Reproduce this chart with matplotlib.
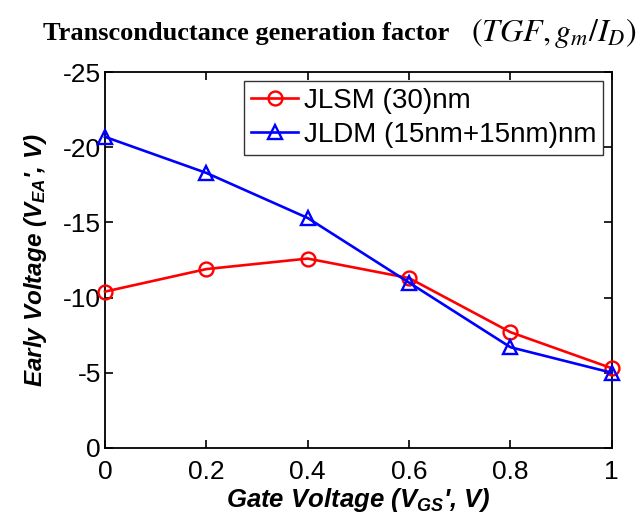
import matplotlib
matplotlib.use("Agg")
import matplotlib.pyplot as plt

# Gate voltage sweep and extracted Early voltages
vgs = [0.0, 0.2, 0.4, 0.6, 0.8, 1.0]
jlsm_vea = [-10.4, -11.9, -12.6, -11.3, -7.7, -5.3]
jldm_vea = [-20.7, -18.3, -15.3, -11.0, -6.7, -5.0]
series_labels = ["JLSM (30)nm", "JLDM (15nm+15nm)nm"]
x_ticks = [0, 0.2, 0.4, 0.6, 0.8, 1]
x_tick_labels = ["0", "0.2", "0.4", "0.6", "0.8", "1"]
y_ticks = [0, -5, -10, -15, -20, -25]
y_tick_labels = ["0", "-5", "-10", "-15", "-20", "-25"]

plt.rcParams["font.family"] = ["Liberation Sans", "DejaVu Sans"]
plt.rcParams["mathtext.fontset"] = "custom"
plt.rcParams["mathtext.rm"] = "Liberation Sans:bold:italic"
plt.rcParams["mathtext.it"] = "Liberation Sans:bold:italic"
plt.rcParams["mathtext.bf"] = "Liberation Sans:bold:italic"

fig = plt.figure(figsize=(6.44, 5.16), dpi=100)
ax = fig.add_axes([0.163, 0.132, 0.787, 0.728])

ax.plot(vgs, jlsm_vea, color="red", lw=1.9, marker="o", ms=10,
        mfc="none", mec="red", mew=1.7, label=series_labels[0], clip_on=False, zorder=3)
ax.plot(vgs, jldm_vea, color="blue", lw=1.9, marker="^", ms=10,
        mfc="none", mec="blue", mew=1.7, label=series_labels[1], clip_on=False, zorder=3)

ax.set_xlim(0, 1)
ax.set_ylim(0, -25)
ax.set_xticks(x_ticks)
ax.set_xticklabels(x_tick_labels)
ax.set_yticks(y_ticks)
ax.set_yticklabels(y_tick_labels)
ax.tick_params(direction="in", length=6, width=1.2, labelsize=19,
               top=True, right=True, pad=3)
ax.tick_params(axis="x", pad=9)
for s in ax.spines.values():
    s.set_linewidth(1.3)

ax.set_xlabel(r"Gate Voltage ($V_{GS}$', V)", fontsize=18.5, fontweight="bold",
              style="italic", labelpad=1)
ax.set_ylabel(r"Early Voltage ($V_{EA}$', V)", fontsize=17.5, fontweight="bold",
              style="italic", labelpad=10)

leg = ax.legend(loc="upper right", fontsize=20, frameon=True, fancybox=False,
                edgecolor="black", borderaxespad=0.3, handlelength=1.7,
                handletextpad=0.2, borderpad=0.25, labelspacing=0.3)
leg.get_frame().set_linewidth(1.0)

fig.text(43 / 644, 0.936, r"Transconductance generation factor",
         family=["Liberation Serif"], fontweight="bold", fontsize=19,
         ha="left", va="center")
fig.text(0.988, 0.936, r"$\left(TGF, g_m/I_D\right)$", fontsize=23,
         math_fontfamily="stix", ha="right", va="center")

fig.savefig("out.png", dpi=100)
